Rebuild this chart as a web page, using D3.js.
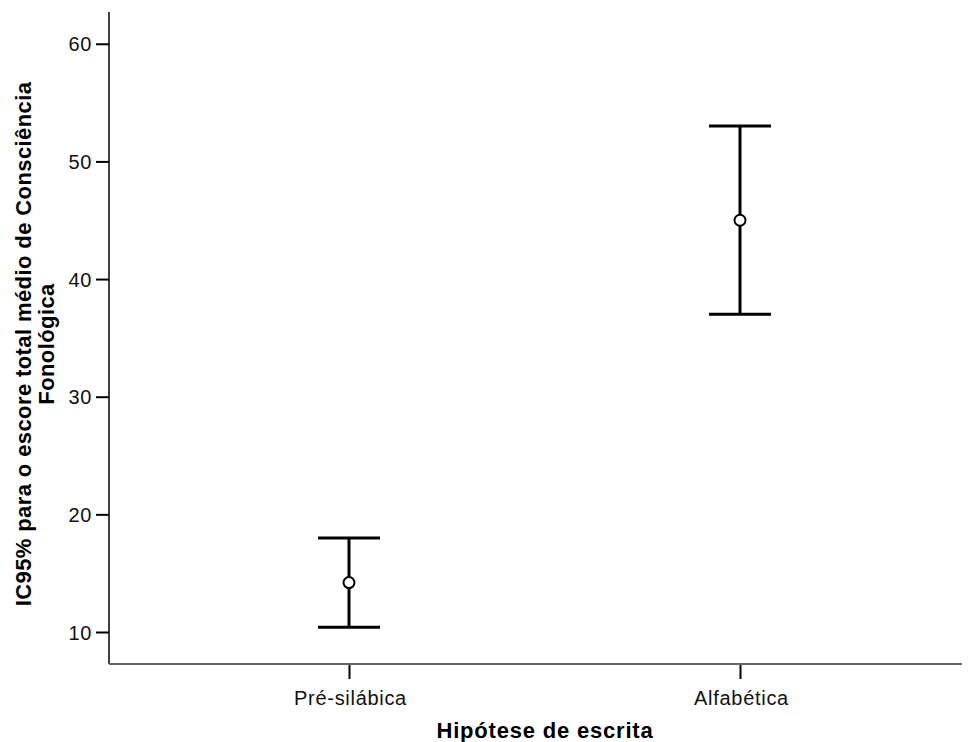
<!DOCTYPE html>
<html><head><meta charset="utf-8">
<script src="https://cdn.jsdelivr.net/npm/d3@7"></script>
<style>body{margin:0;background:#fff}text{font-family:"Liberation Sans",Arial,sans-serif}</style>
</head><body>
<svg id="c" width="968" height="742"></svg>
<script>
const categories = ["Pré-silábica", "Alfabética"];
const means = [14.2, 45.0];
const lowers = [10.4, 37.0];
const uppers = [18.0, 53.0];
const yTicks = [10, 20, 30, 40, 50, 60];

(function () {
const svg = d3.select("#c");
const mLeft = 109, mRight = 962, mTop = 12, mBottom = 664;
const y = d3.scaleLinear().domain([7.28, 62.7]).range([mBottom, mTop]);
const x = d3.scalePoint().domain(categories).range([349, 740]);
const FF = "Liberation Sans, Arial, sans-serif";

// y axis
const ya = svg.append("g").attr("transform", `translate(${mLeft},0)`)
  .call(d3.axisLeft(y).tickValues(yTicks).tickSize(13).tickFormat(d3.format("d")));
ya.select(".domain").remove();
ya.selectAll(".tick line").attr("stroke", "#000").attr("stroke-width", 2);
ya.selectAll(".tick text").attr("x", -17).attr("dy", "0.36em").attr("font-size", 20)
  .attr("letter-spacing", 0.6).attr("fill", "#111").style("font-family", FF);
svg.append("line").attr("x1", mLeft).attr("x2", mLeft).attr("y1", mTop).attr("y2", mBottom).attr("stroke", "#000").attr("stroke-width", 1.5);

// x axis
const xa = svg.append("g").attr("transform", `translate(0,${mBottom})`)
  .call(d3.axisBottom(x).tickSize(15));
xa.select(".domain").remove();
xa.selectAll(".tick line").attr("stroke", "#000").attr("stroke-width", 2);
xa.selectAll(".tick text").attr("y", 41).attr("dy", 0).attr("dx", 1).attr("font-size", 20)
  .attr("letter-spacing", 0.7).attr("fill", "#111").style("font-family", FF);
svg.append("line").attr("x1", mLeft).attr("x2", mRight).attr("y1", mBottom).attr("y2", mBottom).attr("stroke", "#666").attr("stroke-width", 2);

// error bars
const capW = 31;
const g = svg.append("g");
categories.forEach((c, i) => {
  const cx = x(c);
  g.append("line").attr("x1", cx).attr("x2", cx).attr("y1", y(uppers[i])).attr("y2", y(lowers[i])).attr("stroke", "#000").attr("stroke-width", 3);
  g.append("line").attr("x1", cx - capW).attr("x2", cx + capW).attr("y1", y(uppers[i])).attr("y2", y(uppers[i])).attr("stroke", "#000").attr("stroke-width", 3);
  g.append("line").attr("x1", cx - capW).attr("x2", cx + capW).attr("y1", y(lowers[i])).attr("y2", y(lowers[i])).attr("stroke", "#000").attr("stroke-width", 3);
  g.append("circle").attr("cx", cx).attr("cy", y(means[i])).attr("r", 5.5).attr("fill", "#fff").attr("stroke", "#000").attr("stroke-width", 2);
});

// titles
svg.append("text").attr("x", 545).attr("y", 738).attr("text-anchor", "middle")
  .attr("font-size", 22).attr("font-weight", "bold").attr("letter-spacing", 0.8).text("Hipótese de escrita");
const yt = svg.append("text").attr("transform", "translate(0,344) rotate(-90)").attr("text-anchor", "middle")
  .attr("font-size", 22).attr("font-weight", "bold").attr("letter-spacing", 0.4);
yt.append("tspan").attr("x", 0).attr("y", 31).text("IC95% para o escore total médio de Consciência");
yt.append("tspan").attr("x", 0).attr("y", 54).text("Fonológica");
})();
</script>
</body></html>
